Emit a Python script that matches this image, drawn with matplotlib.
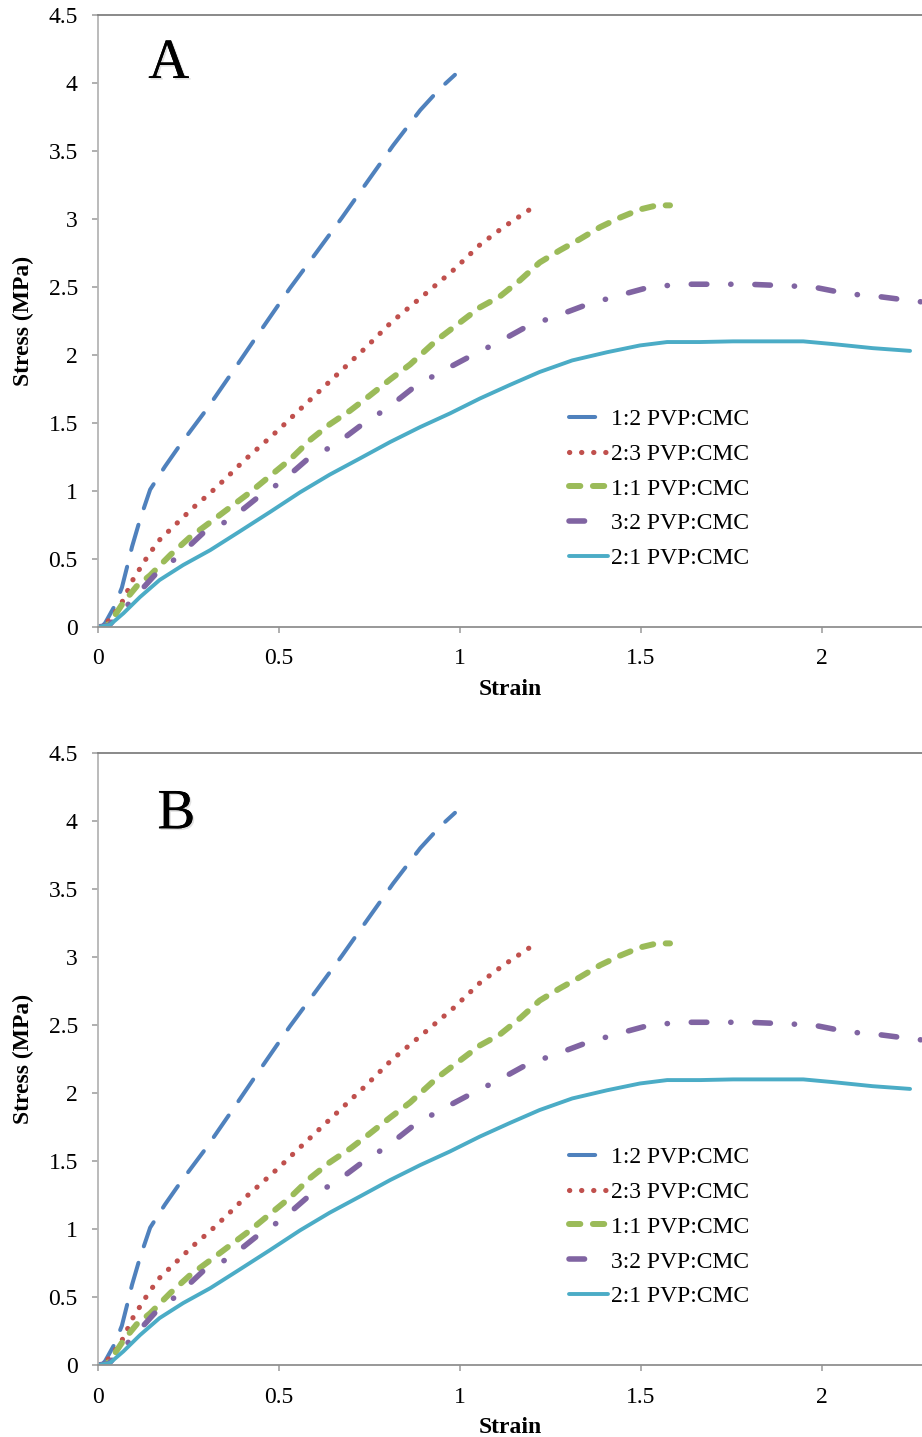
import numpy as np
import matplotlib
matplotlib.use("Agg")
import matplotlib.pyplot as plt
import matplotlib.patheffects as pe

plt.rcParams['font.family'] = ['Liberation Serif', 'DejaVu Serif']

# ---- data (both panels show the same curves) ----
labels = ["1:2 PVP:CMC", "2:3 PVP:CMC", "1:1 PVP:CMC", "3:2 PVP:CMC", "2:1 PVP:CMC"]
panel_letters = ["A", "B"]

strain_12 = [0, 0.01, 0.02, 0.047, 0.066, 0.083, 0.094, 0.116, 0.144, 0.185, 0.227, 0.30,
             0.37, 0.434, 0.53, 0.605, 0.674, 0.743, 0.815, 0.89, 0.945, 0.986]
stress_12 = [0, 0.0, 0.03, 0.16, 0.29, 0.47, 0.59, 0.79, 1.01, 1.18, 1.34, 1.60,
             1.87, 2.12, 2.49, 2.76, 3.01, 3.27, 3.54, 3.80, 3.96, 4.06]

strain_23 = [0, 0.02, 0.04, 0.066, 0.097, 0.13, 0.166, 0.213, 0.262, 0.31, 0.356, 0.406,
             0.453, 0.503, 0.55, 0.594, 0.646, 0.69, 0.738, 0.81, 0.909, 0.98, 1.055,
             1.12, 1.193]
stress_23 = [0, 0.02, 0.08, 0.18, 0.35, 0.49, 0.63, 0.75, 0.875, 0.985, 1.10, 1.23,
             1.34, 1.46, 1.58, 1.69, 1.82, 1.93, 2.05, 2.24, 2.46, 2.62, 2.81,
             2.94, 3.07]

strain_11 = [0, 0.02, 0.033, 0.07, 0.107, 0.144, 0.2, 0.254, 0.31, 0.365, 0.42, 0.475,
             0.53, 0.586, 0.64, 0.696, 0.75, 0.807, 0.862, 0.936, 1.055, 1.11, 1.166,
             1.22, 1.276, 1.33, 1.387, 1.442, 1.497, 1.544, 1.58]
stress_11 = [0, 0.0, 0.03, 0.18, 0.30, 0.38, 0.53, 0.66, 0.77, 0.88, 0.99, 1.11,
             1.23, 1.375, 1.49, 1.59, 1.70, 1.82, 1.93, 2.11, 2.35, 2.43, 2.55,
             2.68, 2.77, 2.85, 2.94, 3.01, 3.07, 3.10, 3.10]

strain_32 = [0, 0.03, 0.088, 0.163, 0.218, 0.29, 0.365, 0.44, 0.508, 0.577, 0.655, 0.73,
             0.80, 0.876, 0.95, 1.028, 1.11, 1.185, 1.27, 1.35, 1.442, 1.525, 1.616,
             1.71, 1.796, 1.89, 1.975, 2.07, 2.155, 2.243, 2.276]
stress_32 = [0, 0.01, 0.18, 0.40, 0.51, 0.69, 0.79, 0.95, 1.07, 1.23, 1.34, 1.49,
             1.61, 1.77, 1.88, 1.99, 2.10, 2.21, 2.29, 2.37, 2.44, 2.50, 2.52,
             2.52, 2.52, 2.51, 2.50, 2.45, 2.43, 2.40, 2.39]

strain_21 = [0, 0.033, 0.07, 0.116, 0.17, 0.235, 0.31, 0.39, 0.475, 0.558, 0.64, 0.724,
             0.807, 0.89, 0.972, 1.055, 1.138, 1.22, 1.31, 1.406, 1.497, 1.572, 1.663,
             1.754, 1.856, 1.948, 2.03, 2.14, 2.243]
stress_21 = [0, 0.015, 0.10, 0.22, 0.345, 0.455, 0.565, 0.70, 0.845, 0.99, 1.12, 1.24,
             1.36, 1.47, 1.57, 1.68, 1.78, 1.875, 1.96, 2.02, 2.07, 2.095, 2.095,
             2.10, 2.10, 2.10, 2.08, 2.05, 2.03]

xticks = [0, 0.5, 1, 1.5, 2]
xticklabels = ["0", "0.5", "1", "1.5", "2"]
yticks = [0, 0.5, 1, 1.5, 2, 2.5, 3, 3.5, 4, 4.5]
yticklabels = ["0", "0.5", "1", "1.5", "2", "2.5", "3", "3.5", "4", "4.5"]

series = [(strain_12, stress_12), (strain_23, stress_23), (strain_11, stress_11),
          (strain_32, stress_32), (strain_21, stress_21)]

colors = ["#4F81BD", "#C0504D", "#9BBB59", "#8064A2", "#4BACC6"]
widths = [2.9, 3.7, 4.3, 4.0, 2.8]
dashes = [(6.5, 4.3), (0.05, 2.3), (1.9, 2.1), (2.8, 4.3, 0.05, 4.3), None]


def main():
    fig = plt.figure(figsize=(9.22, 14.37), dpi=100)
    boxes = [[0.1063, 0.5637, 0.8937, 0.4259], [0.1063, 0.0501, 0.8937, 0.4259]]
    letter_pos = [(0.061, 0.897), (0.072, 0.877)]

    for box, letter, lpos in zip(boxes, panel_letters, letter_pos):
        ax = fig.add_axes(box)
        for (x, y), lab, c, w, d in zip(series, labels, colors, widths, dashes):
            line, = ax.plot(x, y, color=c, lw=w, label=lab,
                            solid_capstyle='round', dash_capstyle='round')
            if d is not None:
                line.set_dashes(d)

        ax.set_xlim(0, 2.276)
        ax.set_ylim(0, 4.5)
        ax.set_xticks(xticks)
        ax.set_xticklabels(xticklabels)
        ax.set_yticks(yticks)
        ax.set_yticklabels(yticklabels)
        ax.tick_params(axis='both', direction='out', length=4.5, width=1.1,
                       color='#9A9A9A', labelsize=17)
        ax.tick_params(axis='x', pad=11)
        ax.tick_params(axis='y', pad=10)

        ax.spines['right'].set_visible(False)
        ax.spines['left'].set_color('#B5B5B5')
        ax.spines['left'].set_linewidth(1.3)
        ax.spines['bottom'].set_color('#909090')
        ax.spines['bottom'].set_linewidth(1.3)
        ax.spines['top'].set_color('#808080')
        ax.spines['top'].set_linewidth(1.3)

        ax.set_xlabel("Strain", fontsize=17, fontweight='bold')
        ax.xaxis.set_label_coords(0.5, -0.085)
        ax.set_ylabel("Stress (MPa)", fontsize=17, fontweight='bold')
        ax.yaxis.set_label_coords(-0.078, 0.5)

        ax.text(lpos[0], lpos[1], letter, transform=ax.transAxes, fontsize=41,
                va='baseline',
                path_effects=[pe.withSimplePatchShadow(offset=(1.2, -1.2),
                                                       shadow_rgbFace='#999999',
                                                       alpha=0.3), pe.Normal()])

        ax.legend(loc='center left', bbox_to_anchor=(0.572, 0.2255),
                  frameon=False, fontsize=17, handlelength=1.65,
                  handletextpad=0.1, labelspacing=0.56, borderpad=0,
                  borderaxespad=0)

    fig.savefig("out.png", dpi=100)


if __name__ == "__main__":
    main()
